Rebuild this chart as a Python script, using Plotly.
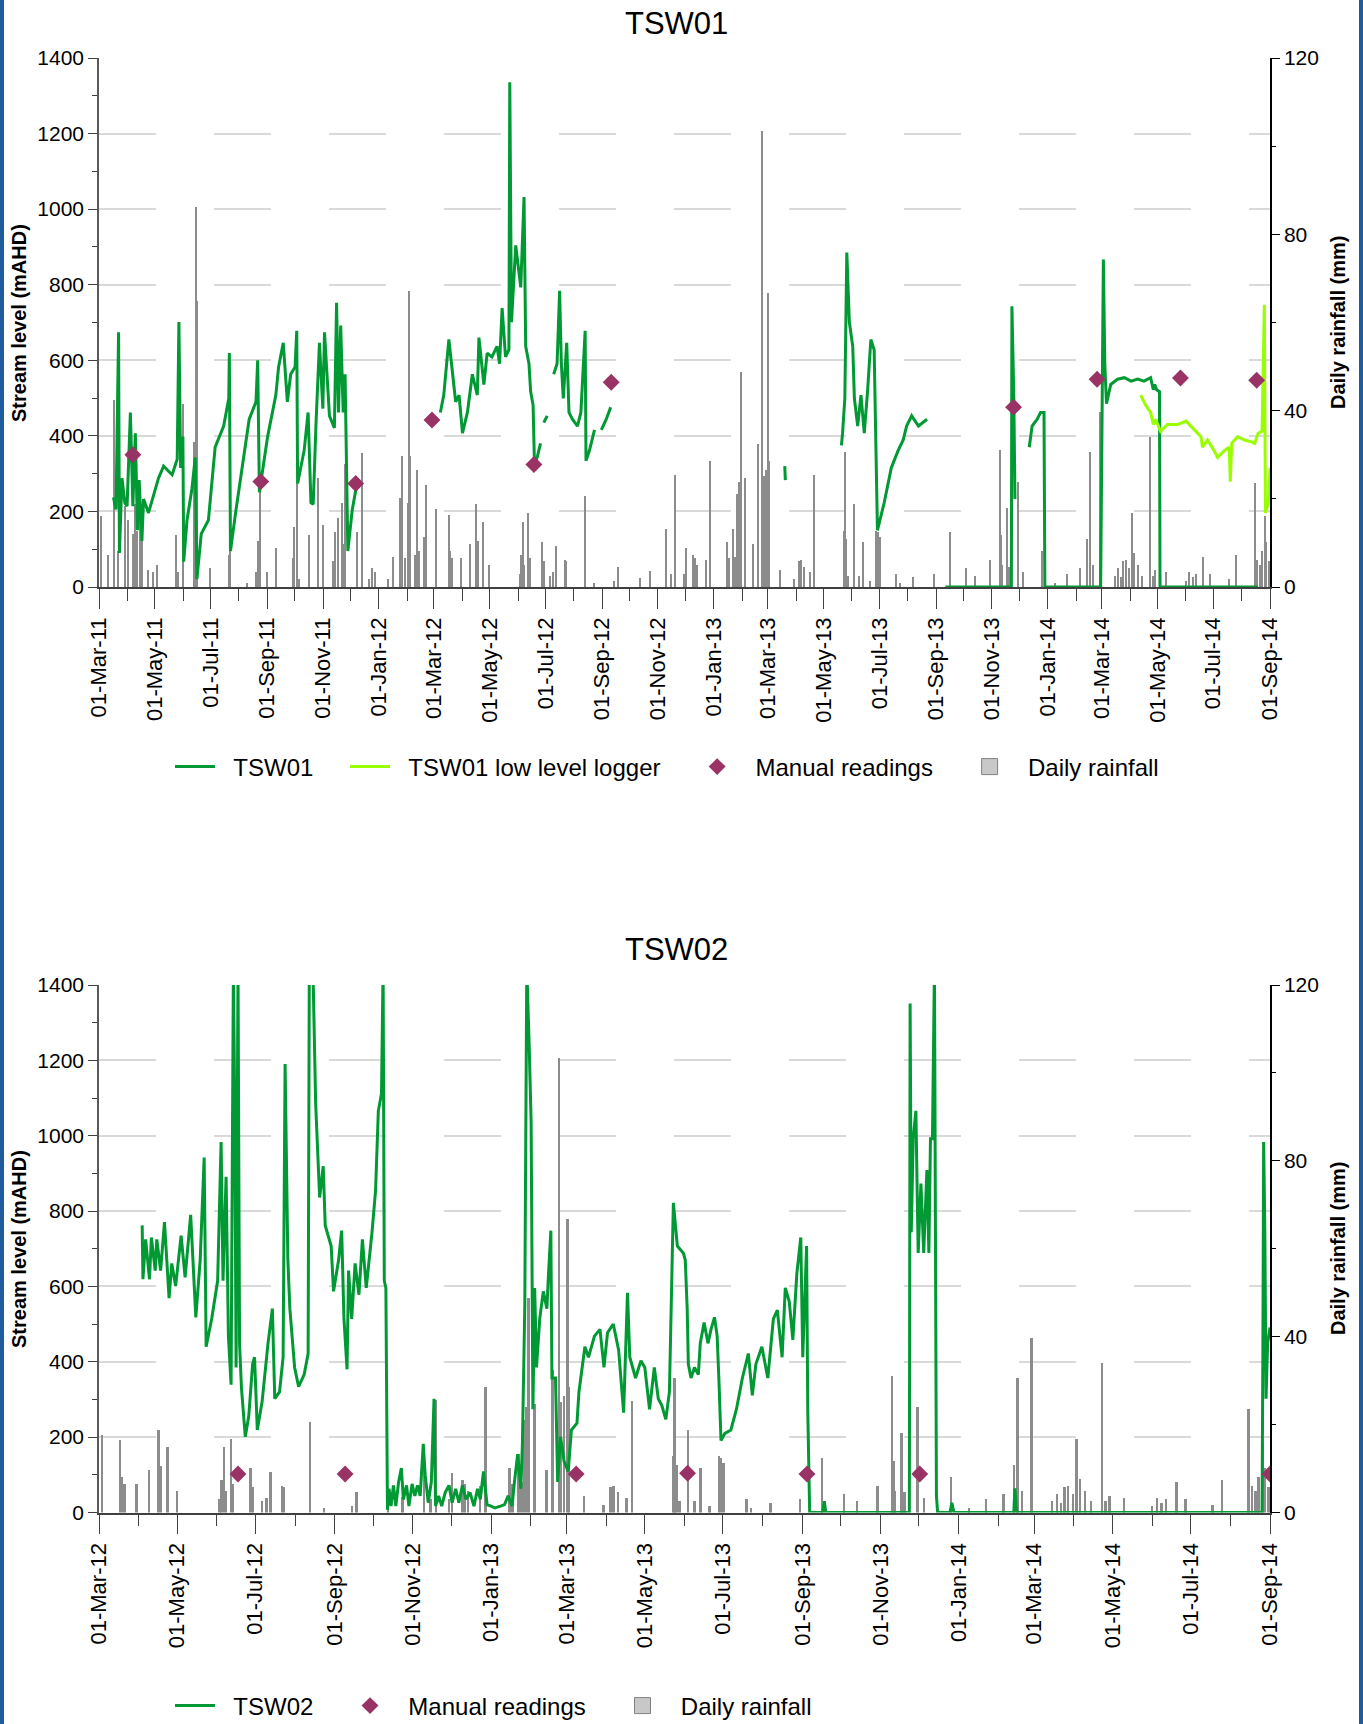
import pandas as pd
import plotly.graph_objects as go

# x values are months after the chart start (01-Mar-11 top, 01-Mar-12 bottom)
TOP_START = pd.Timestamp("2011-03-01")
BOT_START = pd.Timestamp("2012-03-01")

# ---- TSW01 (stream level, mAHD) ----
tsw01_month = [
    0.51, 0.60, 0.69, 0.72, 0.81, 0.91, 0.99, 1.11, 1.20, 1.29, 1.37, 1.43, 1.53, 1.59, 1.77,
    2.13, 2.31, 2.61, 2.79, 2.85, 2.91, 2.99, 3.02, 3.14, 3.32, 3.44, 3.50, 3.66, 3.92, 4.16,
    4.46, 4.64, 4.66, 4.70, 4.88, 5.12, 5.36, 5.60, 5.66, 5.72, 6.01, 6.31, 6.41, 6.58, 6.73,
    6.85, 7.01, 7.07, 7.10, 7.33, 7.47, 7.57, 7.65, 7.75, 7.87, 7.99, 8.05, 8.23, 8.41, 8.49,
    8.56, 8.64, 8.73, 8.80, 8.90, 9.06, 9.24, None,
    12.23, 12.35, 12.53, 12.65, 12.77, 12.89, 13.01, 13.19, 13.37, 13.55, 13.61, 13.79, 13.91,
    14.08, 14.26, 14.35, 14.44, 14.56, 14.68, 14.71, 14.77, 14.92, 15.10, 15.22, 15.28, 15.40,
    15.46, 15.55, 15.60, 15.70, 15.82, None,
    15.94, 16.06, None,
    16.29, 16.41, 16.50, 16.56, 16.63, 16.75, 16.83, 16.95, 17.13, 17.25, 17.40, 17.43, 17.55,
    17.73, None,
    17.97, 18.15, 18.31, None,
    24.60, 24.62, None,
    26.63, 26.67, 26.75, 26.82, 26.91, 27.03, 27.09, 27.21, 27.33, 27.45, 27.57, 27.69, 27.81,
    27.87, 27.93, 28.17, 28.42, 28.66, 28.84, 28.96, 29.14, 29.38, 29.68, None,
    30.34, 32.71, 32.73, 32.80, 32.84, None,
    33.35, 33.45, 33.63, 33.75, 33.87, 33.90, 35.96, 36.06, 36.11, 36.14, 36.17, 36.32, 36.56,
    36.80, 37.04, 37.28, 37.51, 37.75, 37.85, 37.90, 37.97, 38.07, 38.09, 41.58,
]
tsw01_level = [
    237, 205, 674, 90, 288, 223, 214, 462, 214, 407, 150, 283, 122, 233, 196,
    288, 320, 297, 338, 701, 315, 398, 67, 177, 260, 343, 21, 141, 177, 370,
    426, 499, 619, 95, 196, 324, 444, 490, 600, 251, 398, 508, 582, 646, 490,
    563, 582, 678, 274, 361, 462, 223, 219, 435, 646, 472, 674, 453, 421, 752,
    462, 692, 462, 563, 95, 205, 279, None,
    462, 508, 655, 573, 490, 508, 407, 462, 563, 508, 660, 536, 619,
    609, 637, 591, 738, 609, 628, 1336, 701, 904, 793, 1032, 637, 591,
    518, 481, 324, 343, 380, None,
    435, 453, None,
    563, 591, 784, 591, 499, 646, 462, 444, 426, 462, 678, 334, 361,
    416, None,
    416, 444, 476, None,
    320, 283, None,
    375, 407, 499, 885, 701, 637, 499, 426, 508, 407, 518, 655, 628,
    380, 150, 223, 315, 361, 389, 426, 453, 426, 444, None,
    0, 0, 743, 499, 233, None,
    370, 426, 444, 462, 462, 0, 0, 867, 591, 499, 485, 536, 550,
    554, 545, 550, 545, 554, 522, 536, 522, 517, 0, 0,
]

# ---- TSW01 low level logger ----
low_month = [
    37.39, 37.57, 37.75, 37.85, 37.93, 38.11, 38.35, 38.71, 39.01, 39.31, 39.55, 39.61, 39.79,
    40.03, 40.15, 40.39, 40.56, 40.60, 40.65, 40.86, 41.10, 41.34, 41.46, 41.58, 41.72, 41.80,
    41.84, 41.94, 42.0,
]
low_level = [
    508, 481, 462, 430, 444, 412, 430, 430, 439, 416, 398, 370, 389,
    361, 343, 361, 370, 279, 380, 398, 389, 384, 380, 407, 412, 747,
    196, 223, 315,
]

# ---- TSW01 manual readings ----
man01_month = [1.20, 5.77, 9.18, 11.93, 15.58, 18.33, 32.79, 35.82, 38.81, 41.53]
man01_level = [350, 279, 274, 442, 324, 542, 476, 550, 553, 547]

# ---- TSW02 (months after 01-Mar-12) ----
tsw02_month = [
    1.09, 1.11, 1.18, 1.28, 1.33, 1.43, 1.47, 1.57, 1.67, 1.79, 1.86, 1.96, 2.10, 2.20, 2.34,
    2.47, 2.58, 2.68, 2.73, 2.87, 3.02, 3.11, 3.16, 3.24, 3.30, 3.37, 3.43, 3.47, 3.50, 3.55,
    3.59, 3.64, 3.74, 3.83, 3.93, 3.98, 4.05, 4.17, 4.32, 4.43, 4.49, 4.61, 4.70, 4.75, 4.82,
    4.87, 4.99, 5.09, 5.23, 5.33, 5.36, 5.45, 5.52, 5.62, 5.71, 5.76, 5.91, 5.97, 6.10, 6.18,
    6.24, 6.32, 6.36, 6.44, 6.53, 6.63, 6.72, 6.82, 6.97, 7.06, 7.13, 7.21, 7.25, 7.28, 7.32,
    7.36, 7.40, 7.45, 7.51, 7.57, 7.64, 7.71, 7.76, 7.84, 7.90, 7.98, 8.05, 8.12, 8.19, 8.27,
    8.32, 8.40, 8.48, 8.55, 8.59, 8.67, 8.75, 8.84, 8.94, 9.02, 9.11, 9.19, 9.28, 9.37, 9.47,
    9.57, 9.66, 9.73, 9.81, 9.90, 10.00, 10.10, 10.24, 10.34, 10.43, 10.53, 10.58, 10.67, 10.75,
    10.79, 10.85, 10.90, 10.96, 11.01, 11.06, 11.11, 11.16, 11.25, 11.35, 11.45, 11.49, 11.56,
    11.59, 11.69, 11.75, 11.83, 11.93, 12.04, 12.12, 12.26, 12.31, 12.41, 12.46, 12.55, 12.70,
    12.84, 12.94, 13.03, 13.18, 13.32, 13.45, 13.55, 13.61, 13.76, 13.90, 14.00, 14.12, 14.24,
    14.34, 14.43, 14.53, 14.62, 14.72, 14.82, 14.97, 15.02, 15.07, 15.10, 15.17, 15.26, 15.36,
    15.41, 15.51, 15.61, 15.69, 15.78, 15.85, 15.90, 15.95, 16.05, 16.20, 16.34, 16.49, 16.64,
    16.74, 16.83, 16.98, 17.13, 17.27, 17.37, 17.49, 17.57, 17.67, 17.76, 17.86, 17.96, 18.01,
    18.11, 18.14, 18.19, 18.53, 18.57, 18.61, 20.75, 20.77, 20.80, 20.85, 20.92, 20.98, 21.05,
    21.12, 21.20, 21.25, 21.29, 21.34, 21.39, 21.44, 21.47, 21.78, 21.83, 21.88, 23.43, 23.46,
    23.51, 29.80, 29.82, 29.84, 29.87, 29.90, 29.94, 30.0,
]
tsw02_level = [
    762, 619, 725, 619, 730, 642, 725, 642, 771, 569, 661, 601, 735, 624, 790,
    518, 670, 942, 440, 514, 615, 983, 615, 891, 468, 339, 1450, 1006, 385, 1450,
    449, 330, 201, 256, 394, 412, 219, 293, 449, 541, 302, 320, 412, 1190, 670,
    541, 385, 334, 366, 422, 1450, 1450, 1084, 836, 919, 762, 707, 587, 670, 748,
    514, 380, 642, 514, 661, 578, 725, 596, 744, 854, 1066, 1112, 1450, 615, 596,
    7, 63, 17, 72, 17, 81, 118, 35, 72, 17, 76, 44, 72, 44, 182,
    99, 26, 81, 302, 17, 44, 17, 53, 72, 26, 63, 26, 72, 35, 53,
    17, 63, 35, 109, 21, 17, 12, 17, 21, 44, 17, 72, 155, 63,
    182, 550, 1450, 1241, 1038, 274, 596, 385, 514, 587, 541, 624, 748,
    357, 357, 81, 201, 136, 109, 219, 237, 320, 403, 440, 412, 468,
    486, 385, 477, 500, 431, 265, 583, 412, 357, 403, 385, 274, 385,
    302, 284, 247, 320, 822, 707, 689, 670, 541, 394, 357, 385, 366,
    449, 504, 449, 486, 518, 468, 339, 191, 210, 219, 274, 357, 422,
    311, 394, 440, 357, 514, 537, 412, 596, 560, 458, 633, 730, 412,
    707, 274, 0, 0, 30, 0, 0, 1351, 744, 992, 1066, 689, 873,
    689, 909, 689, 992, 992, 1450, 44, 0, 0, 26, 0, 0, 64,
    0, 0, 412, 983, 744, 302, 449, 491,
]

# ---- TSW02 manual readings (months after 01-Mar-12) ----
man02_month = [3.55, 6.27, 12.24, 15.08, 18.12, 21.02, 30.0]
man02_level = [102, 102, 102, 104, 102, 102, 102]

# ---- Daily rainfall, mm (months after 01-Mar-11) ----
rain_month = [
    0.07, 0.33, 0.53, 0.69, 0.93, 1.02, 1.23, 1.29, 1.35, 1.47, 1.53, 1.77, 1.95, 2.10, 2.76,
    2.81, 2.99, 3.40, 3.48, 3.52, 3.98, 4.64, 4.70, 5.30, 5.60, 5.69, 5.74, 6.01, 6.31, 6.93,
    6.99, 7.07, 7.17, 7.51, 7.84, 8.01, 8.35, 8.43, 8.56, 8.68, 8.76, 8.82, 9.25, 9.42, 9.66,
    9.76, 9.88, 10.32, 10.50, 10.74, 10.83, 10.92, 11.04, 11.07, 11.12, 11.30, 11.37, 11.45,
    11.63, 11.72, 12.08, 12.53, 12.59, 12.65, 12.95, 13.28, 13.52, 13.58, 13.76, 14.00,
    15.07, 15.13, 15.19, 15.24, 15.37, 15.43, 15.88, 15.94, 16.18, 16.29, 16.39, 16.68, 16.73,
    17.39, 17.73, 18.45, 18.57, 19.38, 19.74, 20.29, 20.47, 20.61, 20.95, 21.03, 21.29, 21.35,
    21.43, 21.73, 21.87, 22.47, 22.55, 22.70, 22.77, 22.83, 22.89, 22.95, 23.11, 23.45, 23.61,
    23.79, 23.85, 23.94, 24.03, 24.06, 24.45, 24.93, 25.11, 25.19, 25.31, 25.53, 25.67, 26.73,
    26.75, 26.81, 26.88, 27.09, 27.27, 27.42, 27.66, 27.90, 27.96, 28.02, 28.60, 28.72, 29.20,
    29.94, 30.52, 31.08, 31.41, 31.93, 32.31, 32.35, 32.39, 32.55, 32.63, 32.97, 33.14, 33.81,
    34.26, 34.70, 35.15, 35.44, 35.54, 35.66, 35.93, 36.46, 36.58, 36.68, 36.77, 36.86, 36.98,
    37.07, 37.16, 37.30, 37.45, 37.73, 37.83, 37.93, 38.30, 39.01, 39.14, 39.25, 39.37, 39.64,
    39.88, 40.56, 40.80, 41.46, 41.56, 41.64, 41.72, 41.82, 41.88, 41.97,
]
rain_mm = [
    16.0, 7.3, 42.4, 8.1, 18.4, 15.2, 12.1, 18.8, 12.8, 18.4, 10.5, 3.8, 3.4, 5.0, 11.7,
    3.4, 41.6, 32.9, 86.1, 64.9, 4.2, 7.3, 8.1, 1.0, 3.4, 10.5, 23.1, 3.4, 8.9, 6.5,
    13.6, 23.9, 1.8, 11.7, 24.7, 14.0, 5.8, 12.5, 15.6, 19.1, 9.7, 27.8, 12.5, 30.3, 1.8,
    4.2, 3.4, 1.8, 6.9, 20.3, 29.8, 6.5, 19.1, 67.2, 29.8, 7.3, 26.6, 8.1,
    11.3, 23.1, 17.6, 16.4, 8.1, 6.5, 6.5, 9.7, 18.8, 10.5, 14.8, 5.0,
    3.0, 7.3, 14.8, 5.0, 16.8, 6.5, 10.1, 5.8, 2.6, 3.4, 9.3, 6.1, 5.8,
    20.7, 1.0, 1.4, 4.6, 2.0, 3.6, 13.2, 3.0, 25.5, 3.0, 8.9, 7.3, 6.5,
    5.0, 6.1, 28.6, 10.1, 6.5, 13.2, 6.9, 21.1, 23.9, 48.7, 24.7, 9.7, 32.5,
    103.5, 25.1, 26.6, 66.8, 28.6, 3.8, 1.8, 5.8, 6.1, 4.6, 3.4, 25.3, 12.8,
    30.6, 10.9, 2.6, 18.8, 2.6, 10.1, 1.4, 12.8, 12.5, 11.3, 3.0, 1.0, 2.2,
    3.0, 12.5, 4.2, 2.6, 6.1, 31.0, 11.7, 5.0, 18.0, 4.6, 23.9, 3.4, 8.1,
    1.0, 3.0, 4.2, 10.9, 30.6, 5.0, 39.6, 2.6, 4.2, 2.2, 5.8, 6.1, 4.2,
    16.8, 7.7, 5.0, 2.6, 34.1, 2.6, 3.8, 3.4, 1.4, 3.4, 2.2, 3.0, 6.9,
    3.0, 1.8, 7.3, 23.5, 6.1, 5.0, 8.1, 16.0, 10.1, 5.8,
]

GREEN = "#009933"
LIME = "#99FF00"
PLUM = "#993366"
RAIN = "#8C8C8C"
FONT = "Liberation Sans, Arial, sans-serif"
DAY_MS = 86400000
NB = "\u00a0"


def to_dates(months, start):
    """Month offsets (fractional) -> timestamps, None kept as a gap."""
    out = []
    for m in months:
        if m is None:
            out.append(None)
            continue
        whole = int(m)
        a = start + pd.DateOffset(months=whole)
        b = start + pd.DateOffset(months=whole + 1)
        out.append(a + (b - a) * (m - whole))
    return out


def label(text):
    # legend text with the wide gaps of the original
    return NB * 2 + text + NB * 4


W, H = 1363, 1724
X_DOM = [99 / W, 1270 / W]
TOP_DOM = [1 - 587 / H, 1 - 58 / H]
BOT_DOM = [1 - 1512.5 / H, 1 - 985 / H]

fig = go.Figure()

rain_dates = to_dates(rain_month, TOP_START)
rain_key = dict(symbol="square", size=16, color="#C8C8C8", line=dict(color="#808080", width=1))

# top chart ------------------------------------------------------------
fig.add_trace(go.Bar(x=rain_dates, y=rain_mm, xaxis="x", yaxis="y", width=1.5 * DAY_MS,
                     marker=dict(color=RAIN, line_width=0), showlegend=False))
fig.add_trace(go.Scatter(x=to_dates(tsw01_month, TOP_START), y=tsw01_level, xaxis="x", yaxis="y2",
                         mode="lines", name=label("TSW01"), line=dict(color=GREEN, width=3),
                         connectgaps=False, legend="legend", legendrank=1))
fig.add_trace(go.Scatter(x=to_dates(low_month, TOP_START), y=low_level, xaxis="x", yaxis="y2",
                         mode="lines", name=label("TSW01 low level logger"),
                         line=dict(color=LIME, width=3), legend="legend", legendrank=2))
fig.add_trace(go.Scatter(x=to_dates(man01_month, TOP_START), y=man01_level, xaxis="x", yaxis="y2",
                         mode="markers", name=label("Manual readings"),
                         marker=dict(symbol="diamond", size=13, color=PLUM),
                         legend="legend", legendrank=3))
fig.add_trace(go.Scatter(x=[None], y=[None], xaxis="x", yaxis="y2", mode="markers",
                         name=label("Daily rainfall"), marker=rain_key,
                         legend="legend", legendrank=4))

# bottom chart ---------------------------------------------------------
fig.add_trace(go.Bar(x=rain_dates, y=rain_mm, xaxis="x2", yaxis="y3", width=1.5 * DAY_MS,
                     marker=dict(color=RAIN, line_width=0), showlegend=False))
fig.add_trace(go.Scatter(x=to_dates(tsw02_month, BOT_START), y=tsw02_level, xaxis="x2", yaxis="y4",
                         mode="lines", name=label("TSW02"), line=dict(color=GREEN, width=3),
                         legend="legend2", legendrank=1))
fig.add_trace(go.Scatter(x=to_dates(man02_month, BOT_START), y=man02_level, xaxis="x2", yaxis="y4",
                         mode="markers", name=label("Manual readings"),
                         marker=dict(symbol="diamond", size=13, color=PLUM),
                         legend="legend2", legendrank=2))
fig.add_trace(go.Scatter(x=[None], y=[None], xaxis="x2", yaxis="y4", mode="markers",
                         name=label("Daily rainfall"), marker=rain_key,
                         legend="legend2", legendrank=3))


def date_axis(domain, anchor, start, end):
    return dict(
        domain=domain, anchor=anchor, type="date", range=[start, end], automargin=False,
        tick0=start, dtick="M2", tickformat="%d-%b-%y", tickangle=-90,
        ticks="outside", ticklen=20, tickwidth=1, tickcolor="#404040",
        minor=dict(dtick="M1", ticks="outside", ticklen=12, tickwidth=1, tickcolor="#404040"),
        showgrid=False, showline=True, linecolor="#404040", linewidth=1.5,
        zeroline=False, tickfont=dict(family=FONT, size=22, color="#000000"),
    )


def level_axis(overlay, anchor):
    return dict(
        overlaying=overlay, anchor=anchor, side="left", range=[0, 1400], dtick=200,
        automargin=False,
        ticks="outside", ticklen=9, tickwidth=1, tickcolor="#404040",
        minor=dict(dtick=100, ticks="outside", ticklen=5, tickcolor="#404040", showgrid=False),
        showgrid=True, gridcolor="#D9D9D9", gridwidth=1.5, griddash="57px,58px",
        showline=True, linecolor="#595959", linewidth=1.5, zeroline=False,
        tickfont=dict(family=FONT, size=21, color="#000000"),
    )


def rain_axis(domain, anchor):
    return dict(
        domain=domain, anchor=anchor, side="right", range=[0, 120], dtick=40, automargin=False,
        ticks="outside", ticklen=8, tickwidth=1, tickcolor="#000000",
        minor=dict(dtick=20, ticks="outside", ticklen=4, tickcolor="#000000", showgrid=False),
        showgrid=False, showline=True, linecolor="#000000", linewidth=1.5,
        zeroline=False, tickfont=dict(family=FONT, size=21, color="#000000"),
    )


legend_common = dict(orientation="h", xanchor="left", yanchor="middle", bgcolor="rgba(0,0,0,0)",
                     font=dict(family=FONT, size=24, color="#000000"), itemwidth=40)

fig.update_layout(
    width=W, height=H,
    margin=dict(l=0, r=0, t=0, b=0, autoexpand=False),
    paper_bgcolor="white", plot_bgcolor="white",
    font=dict(family=FONT, color="#000000"),
    bargap=0,
    xaxis=date_axis(X_DOM, "y", "2011-03-01", "2014-09-01"),
    yaxis=rain_axis(TOP_DOM, "x"),
    yaxis2=level_axis("y", "x"),
    xaxis2=date_axis(X_DOM, "y3", "2012-03-01", "2014-09-01"),
    yaxis3=rain_axis(BOT_DOM, "x2"),
    yaxis4=level_axis("y3", "x2"),
    legend=dict(legend_common, x=170 / W, y=1 - 767 / H),
    legend2=dict(legend_common, x=170 / W, y=1 - 1706 / H),
)

annotations = [
    dict(text="TSW01", x=676 / W, y=1 - 24 / H, font=dict(size=31)),
    dict(text="TSW02", x=676 / W, y=1 - 949 / H, font=dict(size=31)),
    dict(text="<b>Stream level (mAHD)</b>", x=19 / W, y=1 - 323 / H, textangle=-90, font=dict(size=20)),
    dict(text="<b>Daily rainfall (mm)</b>", x=1338 / W, y=1 - 323 / H, textangle=-90, font=dict(size=20)),
    dict(text="<b>Stream level (mAHD)</b>", x=19 / W, y=1 - 1249 / H, textangle=-90, font=dict(size=20)),
    dict(text="<b>Daily rainfall (mm)</b>", x=1338 / W, y=1 - 1249 / H, textangle=-90, font=dict(size=20)),
]
for a in annotations:
    fig.add_annotation(xref="paper", yref="paper", showarrow=False, xanchor="center",
                       yanchor="middle", font_family=FONT, font_color="#000000", **a)

# blue frame edges left and right
for x0, x1 in [(0, 4 / W), (1359 / W, 1)]:
    fig.add_shape(type="rect", xref="paper", yref="paper", x0=x0, x1=x1, y0=0, y1=1,
                  fillcolor="#1F5C9E", line_width=0, layer="above")

# the page's default 8px body margin would shift the figure; drop it
fig.write_html("out.html", config={"displayModeBar": False},
               post_script="document.body.style.margin='0';"
                           "document.body.style.overflow='hidden';")
